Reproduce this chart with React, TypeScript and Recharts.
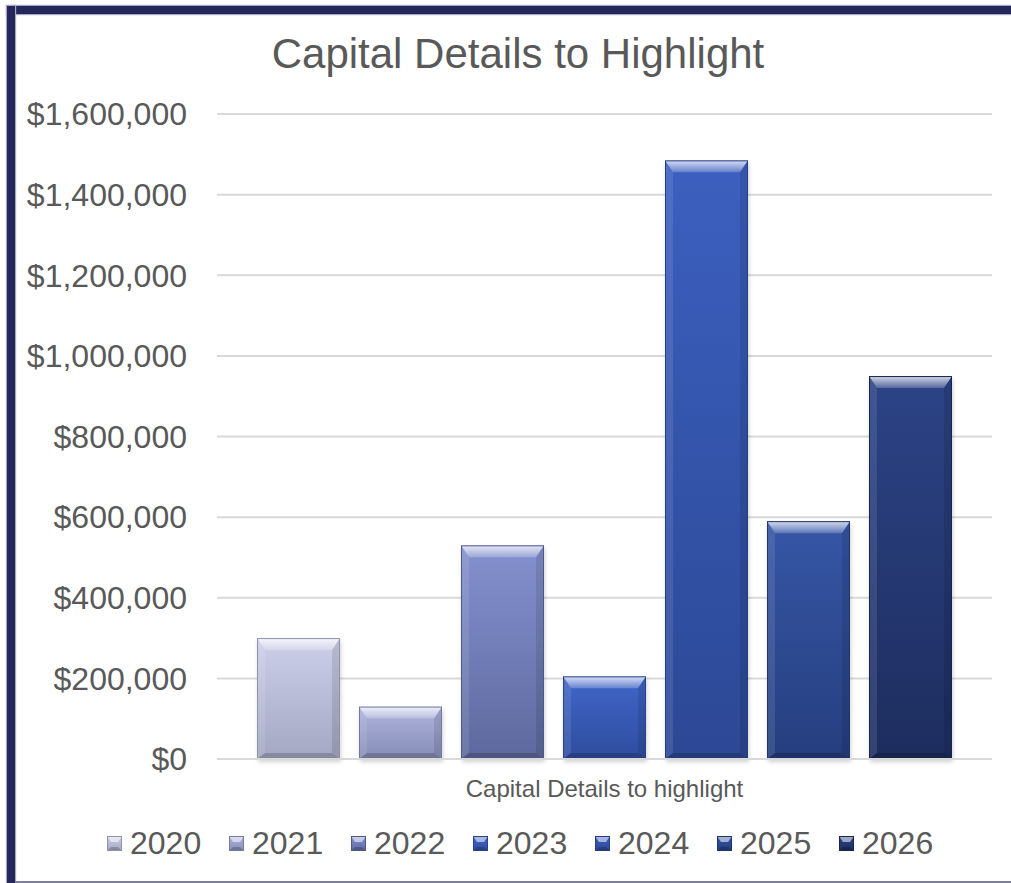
import React from 'react';
import { BarChart, Bar, XAxis, YAxis, CartesianGrid, Legend } from 'recharts';

const years = ['2020', '2021', '2022', '2023', '2024', '2025', '2026'];
const values = [300000, 130000, 530000, 205000, 1485000, 590000, 950000];
const category = 'Capital Details to highlight';
const yTicks = [0, 200000, 400000, 600000, 800000, 1000000, 1200000, 1400000, 1600000];
const topColors = ['#cdd0ea', '#aeb4de', '#8591cf', '#4066c8', '#3c60c0', '#3656a6', '#2c4386'];
const bottomColors = ['#a3a7c1', '#868db6', '#5d699d', '#2f4d9f', '#2c4895', '#253e7e', '#1d2d5e'];
const edgeColors = ['#8e92ab', '#747ba2', '#4e5988', '#27428a', '#253e82', '#1f356d', '#18264f'];

const FONT = '"Liberation Sans", Arial, Helvetica, sans-serif';
const TEXT = '#595959';

const row: Record<string, any> = { name: category };
years.forEach((y, i) => {
  row['y' + y] = values[i];
});
const data = [row];

const fmt = (v: number) => '$' + v.toLocaleString('en-US');

const BevelBar = (props: any) => {
  const { x, y, width: w, height: h, si } = props;
  if (!w || !h || h <= 0) return null;
  const bt = Math.min(12, h / 2);
  const bs = Math.min(8, w / 4);
  const bb = Math.min(6, h / 3);
  const gid = 'bevgrad' + si;
  const tid = 'bevtop' + si;
  return (
    <g>
      <defs>
        <linearGradient id={gid} x1="0" y1="0" x2="0" y2="1">
          <stop offset="0%" stopColor={topColors[si]} />
          <stop offset="100%" stopColor={bottomColors[si]} />
        </linearGradient>
        <linearGradient id={tid} x1="0" y1="0" x2="0" y2="1">
          <stop offset="0%" stopColor="#ffffff" stopOpacity={0.8} />
          <stop offset="100%" stopColor="#ffffff" stopOpacity={0.2} />
        </linearGradient>
        <filter id={'bevsh' + si} x="-20%" y="-20%" width="140%" height="140%">
          <feGaussianBlur stdDeviation="2" />
        </filter>
      </defs>
      <rect x={x + 1} y={y + 3} width={w} height={h} fill="#000" opacity={0.18} filter={`url(#bevsh${si})`} />
      <rect x={x} y={y} width={w} height={h} fill={`url(#${gid})`} />
      <polygon
        points={`${x},${y} ${x + w},${y} ${x + w - bs},${y + bt} ${x + bs},${y + bt}`}
        fill={`url(#${tid})`}
      />
      <polygon
        points={`${x},${y} ${x + bs},${y + bt} ${x + bs},${y + h - bb} ${x},${y + h}`}
        fill="#ffffff"
        opacity={0.1}
      />
      <polygon
        points={`${x + w},${y} ${x + w - bs},${y + bt} ${x + w - bs},${y + h - bb} ${x + w},${y + h}`}
        fill="#000000"
        opacity={0.1}
      />
      <polygon
        points={`${x},${y + h} ${x + bs},${y + h - bb} ${x + w - bs},${y + h - bb} ${x + w},${y + h}`}
        fill="#000000"
        opacity={0.18}
      />
      <rect x={x + 0.5} y={y + 0.5} width={w - 1} height={h - 1} fill="none" stroke={edgeColors[si]} strokeWidth={1} />
    </g>
  );
};

const LegendIcon = ({ si }: { si: number }) => (
  <svg width={15} height={15} style={{ display: 'block' }}>
    <defs>
      <linearGradient id={'lg' + si} x1="0" y1="0" x2="0" y2="1">
        <stop offset="0%" stopColor={topColors[si]} />
        <stop offset="100%" stopColor={bottomColors[si]} />
      </linearGradient>
    </defs>
    <rect x={0} y={0} width={15} height={15} fill={`url(#lg${si})`} />
    <polygon points="0,0 15,0 11,6 4,6" fill="#ffffff" opacity={0.55} />
    <polygon points="0,15 4,11 11,11 15,15" fill="#000" opacity={0.2} />
    <rect x={0.5} y={0.5} width={14} height={14} fill="none" stroke={edgeColors[si]} />
  </svg>
);

const LegendContent = () => (
  <div style={{ position: 'relative', height: 40, width: 1011 }}>
    {years.map((yr, i) => (
      <div
        key={yr}
        style={{
          position: 'absolute',
          left: 107 + i * 122,
          top: 0,
          height: 40,
          display: 'flex',
          alignItems: 'center',
          fontFamily: FONT,
          fontSize: 32,
          color: TEXT,
          whiteSpace: 'nowrap',
        }}
      >
        <LegendIcon si={i} />
        <span style={{ marginLeft: 8 }}>{yr}</span>
      </div>
    ))}
  </div>
);

export default function App() {
  return (
    <div
      style={{
        position: 'absolute',
        left: 0,
        top: 0,
        width: 1011,
        height: 883,
        background: '#ffffff',
        overflow: 'hidden',
        fontFamily: FONT,
      }}
    >
      <div style={{ position: 'absolute', left: 7, top: 6, width: 1004, height: 8, background: '#23275a', boxShadow: '0 0 1px 1px #a5a7c0' }} />
      <div style={{ position: 'absolute', left: 7, top: 6, width: 8, height: 877, background: '#23275a', boxShadow: '0 0 1px 1px #a5a7c0' }} />
      <div style={{ position: 'absolute', left: 15, top: 881, width: 996, height: 2, background: '#7f80a0' }} />
      <div
        style={{
          position: 'absolute',
          left: 18,
          top: 33,
          width: 1000,
          textAlign: 'center',
          fontSize: 42,
          lineHeight: '42px',
          color: TEXT,
          fontFamily: FONT,
          whiteSpace: 'nowrap',
        }}
      >
        Capital Details to Highlight
      </div>
      <div style={{ position: 'absolute', left: 0, top: 0 }}>
        <BarChart
          width={1011}
          height={883}
          data={data}
          margin={{ top: 114, right: 19, left: 0, bottom: 20 }}
          barCategoryGap={40}
          barGap={19}
        >
          <CartesianGrid vertical={false} stroke="#d9d9d9" strokeWidth={2} />
          <XAxis
            dataKey="name"
            axisLine={{ stroke: '#d9d9d9', strokeWidth: 2 }}
            tickLine={false}
            tickSize={0}
            tickMargin={21}
            height={64}
            tick={{ fontSize: 24, fill: TEXT, fontFamily: FONT }}
          />
          <YAxis
            width={217}
            domain={[0, 1600000]}
            ticks={yTicks}
            tickFormatter={fmt}
            axisLine={false}
            tickLine={false}
            tickSize={0}
            tickMargin={30}
            interval={0}
            tick={{ fontSize: 32, fill: TEXT, fontFamily: FONT }}
          />
          <Legend
            verticalAlign="bottom"
            content={() => <LegendContent />}
            wrapperStyle={{ left: 0, top: 823, bottom: 'auto', width: 1011, height: 40 }}
          />
          {years.map((yr, i) => (
            <Bar
              key={yr}
              dataKey={'y' + yr}
              name={yr}
              isAnimationActive={false}
              fill={topColors[i]}
              shape={(p: any) => <BevelBar {...p} si={i} />}
            />
          ))}
        </BarChart>
      </div>
    </div>
  );
}
